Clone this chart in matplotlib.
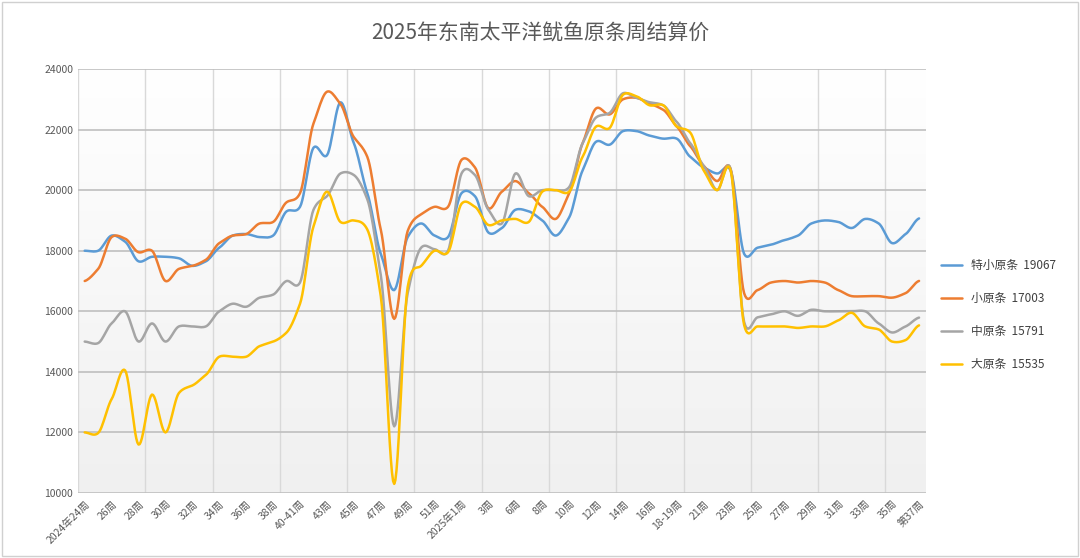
import numpy as np
import matplotlib
matplotlib.use("Agg")
import matplotlib.pyplot as plt

plt.rcParams["font.family"] = ["Noto Sans CJK SC", "DejaVu Sans"]

tick_labels = ["2024年24周", "26周", "28周", "30周", "32周", "34周", "36周", "38周", "40-41周", "43周",
               "45周", "47周", "49周", "51周", "2025年1周", "3周", "6周", "8周", "10周", "12周", "14周",
               "16周", "18-19周", "21周", "23周", "25周", "27周", "29周", "31周", "33周", "35周", "第37周"]

blue = [18000, 18000, 18500, 18300, 17650, 17800, 17800, 17750, 17500, 17650, 18100, 18500, 18550, 18450,
        18500, 19300, 19450, 21400, 21150, 22900, 21550, 19900, 17900, 16700, 18450, 18900, 18500, 18450,
        19900, 19800, 18600, 18750, 19350, 19300, 19000, 18500, 19100, 20650, 21600, 21500, 21950, 21950,
        21800, 21700, 21700, 21100, 20750, 20550, 20650, 17900, 18100, 18200, 18350, 18500, 18900, 19000,
        18950, 18750, 19050, 18900, 18250, 18550, 19067]
orange = [17000, 17400, 18450, 18400, 17950, 18000, 17000, 17400, 17500, 17700, 18250, 18500, 18550, 18900,
          18950, 19600, 19900, 22200, 23250, 22850, 21750, 21100, 18700, 15750, 18650, 19200, 19450, 19450,
          21000, 20750, 19400, 19950, 20300, 19900, 19450, 19050, 19900, 21550, 22700, 22500, 23000, 23050,
          22850, 22650, 22100, 21450, 20800, 20300, 20700, 16600, 16700, 16950, 17000, 16950, 17000, 16950,
          16700, 16500, 16500, 16500, 16450, 16600, 17003]
gray = [15000, 14950, 15600, 16000, 15000, 15600, 15000, 15500, 15500, 15500, 16000, 16250, 16150, 16450,
        16550, 17000, 16950, 19350, 19800, 20550, 20500, 19700, 17200, 12200, 16600, 18100, 18050, 18000,
        20550, 20500, 19350, 18900, 20550, 19800, 20000, 20000, 20100, 21550, 22400, 22550, 23200, 23050,
        22900, 22800, 22250, 21550, 20800, 20000, 20700, 15650, 15800, 15900, 16000, 15850, 16050, 16000,
        16000, 16000, 16000, 15600, 15300, 15500, 15791]
yellow = [12000, 11980, 13100, 14050, 11600, 13250, 12000, 13300, 13550, 13900, 14500, 14500, 14500, 14850,
          15000, 15300, 16250, 18800, 19950, 18950, 19000, 18700, 16500, 10300, 16800, 17500, 18000, 17950,
          19550, 19450, 18850, 19000, 19050, 18950, 19950, 20000, 19950, 21100, 22100, 22050, 23150, 23100,
          22800, 22800, 22100, 21900, 20650, 20000, 20650, 15550, 15500, 15500, 15500, 15450, 15500, 15500,
          15700, 15950, 15500, 15400, 15000, 15050, 15535]

names = ["特小原条", "小原条", "中原条", "大原条"]
colors = ["#5b9bd5", "#ed7d31", "#a5a5a5", "#ffc000"]
series = [blue, orange, gray, yellow]


def smooth(y, n=12, tension=0.35):
    y = np.asarray(y, float)
    p = np.concatenate([[y[0]], y, [y[-1]]])
    xs, ys = [], []
    t = np.linspace(0, 1, n, endpoint=False)
    h00 = 2 * t ** 3 - 3 * t ** 2 + 1
    h10 = t ** 3 - 2 * t ** 2 + t
    h01 = -2 * t ** 3 + 3 * t ** 2
    h11 = t ** 3 - t ** 2
    for i in range(len(y) - 1):
        p0, p1, p2, p3 = p[i], p[i + 1], p[i + 2], p[i + 3]
        m1 = tension * (p2 - p0)
        m2 = tension * (p3 - p1)
        xs.extend(i + t)
        ys.extend(h00 * p1 + h10 * m1 + h01 * p2 + h11 * m2)
    xs.append(len(y) - 1)
    ys.append(y[-1])
    return np.array(xs), np.array(ys)


fig = plt.figure(figsize=(10.8, 5.58), dpi=100)
fig.patch.set_facecolor("white")
ax = fig.add_axes([0.0722, 0.1165, 0.785, 0.7598])
n = len(blue)
ax.set_xlim(-0.5, n - 0.5)
ax.set_ylim(10000, 24000)
grad = np.linspace(1, 0, 256).reshape(-1, 1)
ax.imshow(grad, extent=[-0.5, n - 0.5, 10000, 24000], aspect="auto",
          cmap=matplotlib.colors.LinearSegmentedColormap.from_list("g", ["#f0f0f0", "#ffffff"]), zorder=0)

for k in range(0, n + 1, 5):
    ax.axvline(k - 0.5, color="#d9d9d9", lw=1, zorder=1)
for v in range(10000, 24001, 2000):
    ax.axhline(v, color="#bfbfbf", lw=1.2, zorder=1)

for nm, c, s in zip(names, colors, series):
    xs, ys = smooth(s)
    ax.plot(xs, ys, color=c, lw=1.8, label=f"{nm}  {s[-1]}", zorder=3, solid_capstyle="round")

ax.set_xticks(range(0, n, 2))
ax.set_xticklabels(tick_labels, rotation=45, ha="right", rotation_mode="anchor", fontsize=7.5, color="#595959")
ax.set_yticks(range(10000, 24001, 2000))
ax.tick_params(axis="y", labelsize=7.5, colors="#595959", length=0)
ax.tick_params(axis="x", length=0, pad=4)
for sp in ax.spines.values():
    sp.set_visible(False)

fig.text(0.5, 0.94, "2025年东南太平洋鱿鱼原条周结算价", ha="center", va="center", fontsize=15, color="#595959")
leg = ax.legend(loc="center left", bbox_to_anchor=(1.005, 0.42), frameon=False, fontsize=8.5,
                handlelength=1.8, labelspacing=1.7, labelcolor="#404040")

fig.add_artist(plt.Rectangle((0.002, 0.003), 0.996, 0.994, transform=fig.transFigure, fill=False,
                             edgecolor="#d0d0d0", lw=1))
fig.savefig("out.png", dpi=100)
